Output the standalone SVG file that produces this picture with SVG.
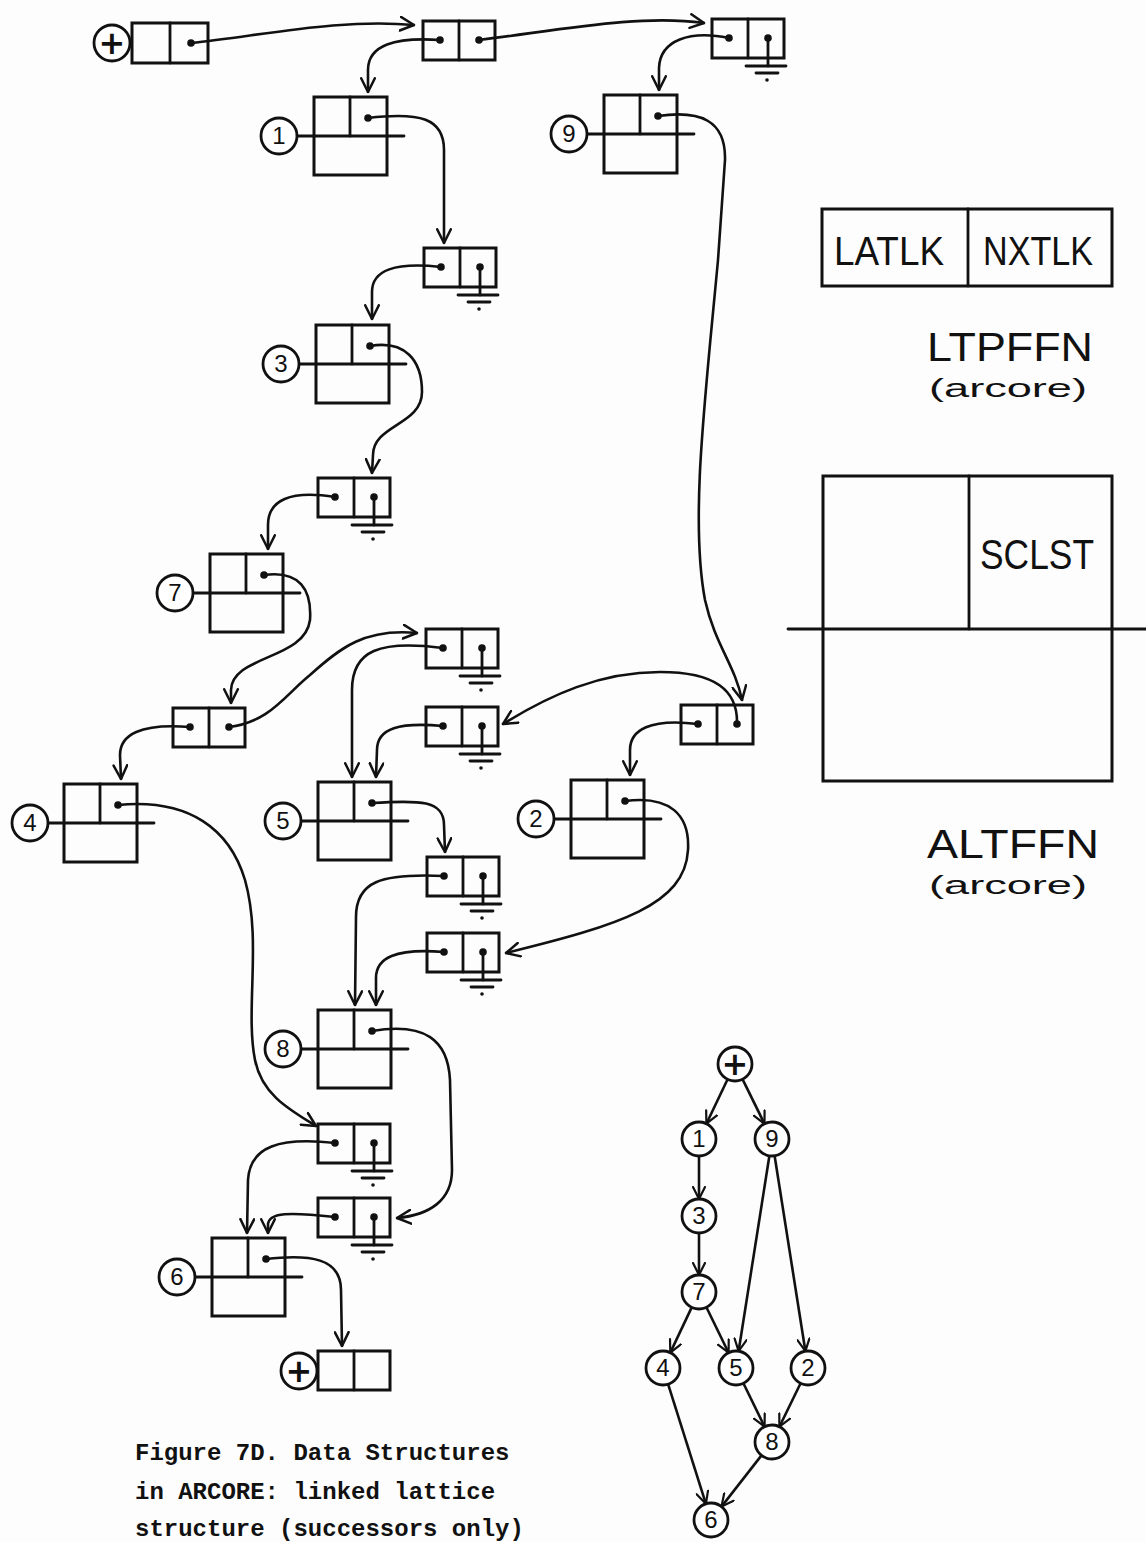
<svg xmlns="http://www.w3.org/2000/svg" xmlns:xlink="http://www.w3.org/1999/xlink" width="1146" height="1542" viewBox="0 0 1146 1542">
<style>
.s{fill:none;stroke:#111;stroke-width:2.8;stroke-linecap:round;stroke-linejoin:round}
.box{fill:none;stroke:#111;stroke-width:3}
.dot{fill:#111}
.circ{fill:#fff;stroke:#111;stroke-width:2.8}
.lbl{font-family:"Liberation Sans","DejaVu Sans",sans-serif;font-size:24px;text-anchor:middle;fill:#111}
.plus{font-family:"DejaVu Sans","Liberation Sans",sans-serif;font-size:32px;font-weight:bold;text-anchor:middle;fill:#111}
.conn path{fill:none;stroke:#111;stroke-width:2.6;stroke-linecap:round;marker-end:url(#ah)}
.edge line{stroke:#111;stroke-width:2.6;marker-end:url(#ah2)}
.hand{font-family:"Liberation Sans","DejaVu Sans",sans-serif;fill:#111;text-anchor:middle}
.cap{font-family:"Liberation Mono","DejaVu Sans Mono",monospace;font-weight:bold;font-size:24px;fill:#111}
</style>
<defs>
<marker id="ah" viewBox="0 0 14 14" refX="13" refY="7" markerWidth="16" markerHeight="16" markerUnits="userSpaceOnUse" orient="auto"><path d="M1,1 L13,7 L1,13" fill="none" stroke="#111" stroke-width="2.2" stroke-linecap="round" stroke-linejoin="round"/></marker>
<marker id="ah2" viewBox="0 0 14 14" refX="13" refY="7" markerWidth="14" markerHeight="14" markerUnits="userSpaceOnUse" orient="auto"><path d="M1,1 L13,7 L1,13" fill="none" stroke="#111" stroke-width="2.2" stroke-linecap="round" stroke-linejoin="round"/></marker>
<g id="big">
<rect class="box" x="0" y="0" width="73" height="78"/>
<line class="s" x1="36" y1="0" x2="36" y2="39"/>
<line class="s" x1="-17" y1="39" x2="90" y2="39"/>
<circle class="dot" cx="54" cy="21" r="3.8"/>
</g>
<g id="pair">
<rect class="box" x="0" y="0" width="72" height="39"/>
<line class="s" x1="36" y1="0" x2="36" y2="39"/>
</g>
<g id="gnd">
<use xlink:href="#pair"/>
<circle class="dot" cx="17" cy="19" r="3.8"/>
<circle class="dot" cx="56" cy="19" r="3.8"/>
<line class="s" x1="56" y1="19" x2="56" y2="47"/>
<line class="s" x1="34" y1="47" x2="74" y2="47"/>
<line class="s" x1="44" y1="54" x2="66" y2="54"/>
<circle class="dot" cx="55" cy="61" r="1.8"/>
</g>
<g id="both">
<use xlink:href="#pair"/>
<circle class="dot" cx="17" cy="19" r="3.8"/>
<circle class="dot" cx="56" cy="19" r="3.8"/>
</g>
</defs>
<rect x="0" y="0" width="1146" height="1542" fill="#fdfdfd"/>

<!-- top list head -->
<g id="head">
<circle class="circ" cx="112" cy="43" r="18"/>
<text class="plus" x="112" y="54">+</text>
<rect class="box" x="132" y="23" width="76" height="40"/>
<line class="s" x1="170" y1="23" x2="170" y2="63"/>
<circle class="dot" cx="191" cy="43" r="3.8"/>
</g>
<g id="cellB"><use xlink:href="#both" x="423" y="21"/></g>
<g id="cellC"><use xlink:href="#gnd" x="712" y="19"/></g>

<!-- lattice nodes -->
<g id="node1"><use xlink:href="#big" x="314" y="97"/><circle class="circ" cx="279" cy="136" r="18"/><text class="lbl" x="279" y="144">1</text></g>
<g id="node9"><use xlink:href="#big" x="604" y="95"/><circle class="circ" cx="569" cy="134" r="18"/><text class="lbl" x="569" y="142">9</text></g>
<g id="cellD"><use xlink:href="#gnd" x="424" y="248"/></g>
<g id="node3"><use xlink:href="#big" x="316" y="325"/><circle class="circ" cx="281" cy="364" r="18"/><text class="lbl" x="281" y="372">3</text></g>
<g id="cellE"><use xlink:href="#gnd" x="318" y="478"/></g>
<g id="node7"><use xlink:href="#big" x="210" y="554"/><circle class="circ" cx="175" cy="593" r="18"/><text class="lbl" x="175" y="601">7</text></g>
<g id="cellF"><use xlink:href="#both" x="173" y="708"/></g>
<g id="cellG"><use xlink:href="#gnd" x="426" y="629"/></g>
<g id="cellH"><use xlink:href="#gnd" x="426" y="707"/></g>
<g id="cellI"><use xlink:href="#both" x="681" y="705"/></g>
<g id="node4"><use xlink:href="#big" x="64" y="784"/><circle class="circ" cx="30" cy="823" r="18"/><text class="lbl" x="30" y="831">4</text></g>
<g id="node5"><use xlink:href="#big" x="318" y="782"/><circle class="circ" cx="283" cy="821" r="18"/><text class="lbl" x="283" y="829">5</text></g>
<g id="node2"><use xlink:href="#big" x="571" y="780"/><circle class="circ" cx="536" cy="819" r="18"/><text class="lbl" x="536" y="827">2</text></g>
<g id="cellK"><use xlink:href="#gnd" x="427" y="857"/></g>
<g id="cellL"><use xlink:href="#gnd" x="427" y="933"/></g>
<g id="node8"><use xlink:href="#big" x="318" y="1010"/><circle class="circ" cx="283" cy="1049" r="18"/><text class="lbl" x="283" y="1057">8</text></g>
<g id="cellJ"><use xlink:href="#gnd" x="318" y="1124"/></g>
<g id="cellM"><use xlink:href="#gnd" x="318" y="1198"/></g>
<g id="node6"><use xlink:href="#big" x="212" y="1238"/><circle class="circ" cx="177" cy="1277" r="18"/><text class="lbl" x="177" y="1285">6</text></g>
<g id="tail">
<circle class="circ" cx="299" cy="1371" r="18"/>
<text class="plus" x="299" y="1382">+</text>
<use xlink:href="#pair" x="318" y="1351"/>
</g>

<g id="connectors" class="conn">
<path d="M191,43 C260,36 340,18 414,25"/>
<path d="M479,40 C560,30 640,14 704,23"/>
<path d="M440,40 C395,37 368,45 368,70 L368,92"/>
<path d="M729,38 C690,30 660,40 659,68 L659,90"/>
<path d="M368,118 C420,112 444,118 444,150 L444,243"/>
<path d="M658,116 C700,110 726,120 725,160 L718,260 C705,400 690,520 705,600 C715,645 735,665 742,700"/>
<path d="M441,267 C395,262 372,270 372,292 L372,319"/>
<path d="M370,346 C405,340 422,360 422,392 C422,425 373,425 373,455 L372,473"/>
<path d="M335,497 C290,490 268,500 268,525 L268,549"/>
<path d="M264,575 C300,570 312,590 310,620 C305,660 232,655 231,690 L231,703"/>
<path d="M229,727 C270,722 285,695 310,675 C340,648 365,628 417,633"/>
<path d="M190,727 C140,723 120,735 120,755 L121,779"/>
<path d="M443,648 C380,640 352,650 352,690 L352,777"/>
<path d="M443,726 C400,722 377,728 377,750 L376,777"/>
<path d="M737,724 C738,690 715,672 660,672 C600,672 550,695 503,724"/>
<path d="M698,724 C650,718 630,730 630,750 L630,775"/>
<path d="M118,805 C190,798 230,830 245,880 C262,940 245,1010 255,1060 C262,1095 290,1110 316,1126"/>
<path d="M372,803 C420,800 444,800 444,825 L445,852"/>
<path d="M625,801 C670,795 690,815 688,850 C685,905 620,925 506,953"/>
<path d="M444,876 C380,873 356,882 356,917 L355,1005"/>
<path d="M444,952 C395,948 376,958 376,978 L376,1005"/>
<path d="M372,1031 C425,1022 448,1040 450,1080 L452,1170 C452,1200 430,1215 397,1218"/>
<path d="M335,1143 C280,1137 250,1146 248,1180 L247,1233"/>
<path d="M335,1217 C290,1212 268,1212 268,1225 L268,1233"/>
<path d="M266,1259 C310,1254 341,1258 341,1290 L342,1346"/>
</g>

<!-- legend structures -->
<g id="ltpffn">
<rect class="box" x="822" y="209" width="290" height="77"/>
<line class="s" x1="968" y1="209" x2="968" y2="286"/>
<text class="hand" x="889" y="265" font-size="40" textLength="110" lengthAdjust="spacingAndGlyphs">LATLK</text>
<text class="hand" x="1038" y="265" font-size="40" textLength="110" lengthAdjust="spacingAndGlyphs">NXTLK</text>
<text class="hand" x="1010" y="361" font-size="40" textLength="166" lengthAdjust="spacingAndGlyphs">LTPFFN</text>
<text class="hand" x="1008" y="397" font-size="26" textLength="158" lengthAdjust="spacingAndGlyphs">(arcore)</text>
</g>
<g id="altffn">
<rect class="box" x="823" y="476" width="289" height="305"/>
<line class="s" x1="969" y1="476" x2="969" y2="629"/>
<line class="s" x1="788" y1="629" x2="1146" y2="629"/>
<text class="hand" x="1037" y="569" font-size="42" textLength="114" lengthAdjust="spacingAndGlyphs">SCLST</text>
<text class="hand" x="1013" y="858" font-size="40" textLength="172" lengthAdjust="spacingAndGlyphs">ALTFFN</text>
<text class="hand" x="1008" y="894" font-size="26" textLength="158" lengthAdjust="spacingAndGlyphs">(arcore)</text>
</g>

<!-- small lattice graph -->
<g id="graph-edges" class="edge">
<line x1="727.6" y1="1079.3" x2="706.4" y2="1123.7"/>
<line x1="742.5" y1="1079.2" x2="764.5" y2="1123.8"/>
<line x1="699" y1="1156" x2="699" y2="1199"/>
<line x1="699" y1="1233" x2="699" y2="1275"/>
<line x1="691.7" y1="1307.4" x2="670.3" y2="1352.6"/>
<line x1="706.4" y1="1307.3" x2="728.6" y2="1352.7"/>
<line x1="769.4" y1="1155.8" x2="738.6" y2="1351.2"/>
<line x1="774.6" y1="1155.8" x2="805.4" y2="1351.2"/>
<line x1="668.1" y1="1384.2" x2="705.9" y2="1503.8"/>
<line x1="743.4" y1="1383.3" x2="764.6" y2="1426.7"/>
<line x1="800.6" y1="1383.3" x2="779.4" y2="1426.7"/>
<line x1="761.5" y1="1455.4" x2="721.5" y2="1506.6"/>
</g>
<g id="g-plus"><circle class="circ" cx="735" cy="1064" r="17"/><text class="plus" x="735" y="1075">+</text></g>
<g id="g-1"><circle class="circ" cx="699" cy="1139" r="17"/><text class="lbl" x="699" y="1147">1</text></g>
<g id="g-9"><circle class="circ" cx="772" cy="1139" r="17"/><text class="lbl" x="772" y="1147">9</text></g>
<g id="g-3"><circle class="circ" cx="699" cy="1216" r="17"/><text class="lbl" x="699" y="1224">3</text></g>
<g id="g-7"><circle class="circ" cx="699" cy="1292" r="17"/><text class="lbl" x="699" y="1300">7</text></g>
<g id="g-4"><circle class="circ" cx="663" cy="1368" r="17"/><text class="lbl" x="663" y="1376">4</text></g>
<g id="g-5"><circle class="circ" cx="736" cy="1368" r="17"/><text class="lbl" x="736" y="1376">5</text></g>
<g id="g-2"><circle class="circ" cx="808" cy="1368" r="17"/><text class="lbl" x="808" y="1376">2</text></g>
<g id="g-8"><circle class="circ" cx="772" cy="1442" r="17"/><text class="lbl" x="772" y="1450">8</text></g>
<g id="g-6"><circle class="circ" cx="711" cy="1520" r="17"/><text class="lbl" x="711" y="1528">6</text></g>

<g id="caption">
<text class="cap" x="135" y="1460">Figure 7D. Data Structures</text>
<text class="cap" x="135" y="1499">in ARCORE:  linked lattice</text>
<text class="cap" x="135" y="1536">structure (successors only)</text>
</g>
</svg>
